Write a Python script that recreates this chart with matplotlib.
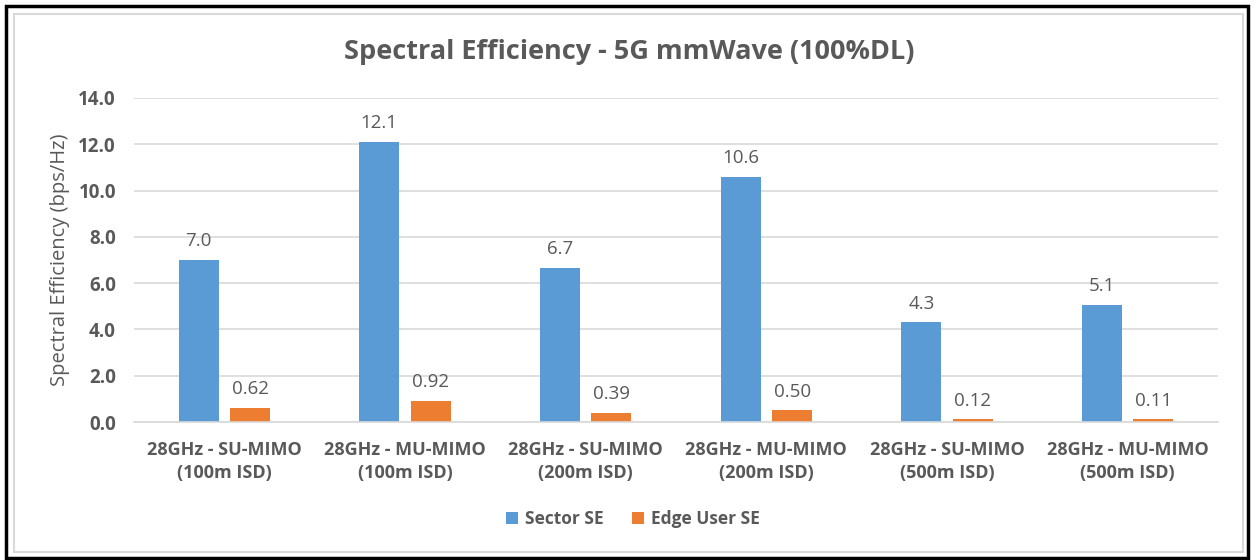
import matplotlib
matplotlib.use("Agg")
import matplotlib.pyplot as plt
from matplotlib.patches import Rectangle
import numpy as np

categories = ["28GHz - SU-MIMO\n(100m ISD)", "28GHz - MU-MIMO\n(100m ISD)",
              "28GHz - SU-MIMO\n(200m ISD)", "28GHz - MU-MIMO\n(200m ISD)",
              "28GHz - SU-MIMO\n(500m ISD)", "28GHz - MU-MIMO\n(500m ISD)"]
sector_se = [7.0, 12.1, 6.65, 10.6, 4.3, 5.05]
sector_labels = ["7.0", "12.1", "6.7", "10.6", "4.3", "5.1"]
edge_se = [0.62, 0.92, 0.39, 0.50, 0.12, 0.11]
edge_labels = ["0.62", "0.92", "0.39", "0.50", "0.12", "0.11"]
yticks = [0, 2, 4, 6, 8, 10, 12, 14]

plt.rcParams['font.family'] = ['Open Sans', 'DejaVu Sans']
txt = "#595959"
blue = "#5B9BD5"
orange = "#ED7D31"

fig = plt.figure(figsize=(12.57, 5.6), dpi=100)
ax = fig.add_axes([134/1257, 138/560, (1218-134)/1257, (422-98)/560])

x = np.arange(len(categories))
w = 0.221
off = 0.1425
b1 = ax.bar(x - off, sector_se, w, color=blue, label="Sector SE", zorder=3)
b2 = ax.bar(x + off, edge_se, w, color=orange, label="Edge User SE", zorder=3)

for rect, lab in zip(b1, sector_labels):
    ax.annotate(lab, (rect.get_x() + rect.get_width()/2, rect.get_height()),
                xytext=(0, 7), textcoords="offset points", ha="center", va="bottom",
                fontsize=13.5, color=txt)
for rect, lab in zip(b2, edge_labels):
    ax.annotate(lab, (rect.get_x() + rect.get_width()/2, rect.get_height()),
                xytext=(0, 7), textcoords="offset points", ha="center", va="bottom",
                fontsize=13.5, color=txt)

ax.set_xlim(-0.5, len(categories) - 0.5)
ax.set_ylim(0, 14)
ax.set_yticks(yticks)
ax.set_yticklabels([f"{v:.1f}" for v in yticks], fontsize=13.5, fontweight="bold", color=txt)
ax.set_xticks(x)
ax.set_xticklabels(categories, fontsize=13, fontweight="bold", color=txt, linespacing=1.35)
ax.tick_params(axis="both", length=0)
ax.tick_params(axis="y", pad=13)
ax.tick_params(axis="x", pad=14)
ax.grid(axis="y", color="#d9d9d9", linewidth=1.2, zorder=0)
for s in ["top", "right", "left"]:
    ax.spines[s].set_visible(False)
ax.spines["bottom"].set_color("#d9d9d9")
ax.spines["bottom"].set_linewidth(1.2)
ax.spines["bottom"].set_zorder(4)

ax.set_ylabel("Spectral Efficiency (bps/Hz)", fontsize=14.5, color=txt)
ax.yaxis.set_label_coords(-0.059, 0.5)

fig.text(629/1257, 1 - 52/560, "Spectral Efficiency - 5G mmWave (100%DL)",
         ha="center", va="center", fontsize=19.5, fontweight="bold", color=txt)

leg = fig.legend(handles=[b1, b2], loc="center", bbox_to_anchor=(633/1257, 1 - 519/560),
                 ncol=2, frameon=False, fontsize=12.5, handlelength=0.7, handleheight=0.7,
                 columnspacing=1.6, handletextpad=0.4)
for t in leg.get_texts():
    t.set_color(txt)
    t.set_fontweight("bold")

# borders
fig.patches.append(Rectangle((14/1257, 8/560), (1243-14)/1257, (546-8)/560,
                             transform=fig.transFigure, fill=False,
                             edgecolor="#d9d9d9", linewidth=1.5))
fig.patches.append(Rectangle((5.5/1257, 2/560), (1248-5.5)/1257, (554.5-2)/560,
                             transform=fig.transFigure, fill=False,
                             edgecolor="black", linewidth=2.5))

fig.savefig("out.png", dpi=100, facecolor="white")
